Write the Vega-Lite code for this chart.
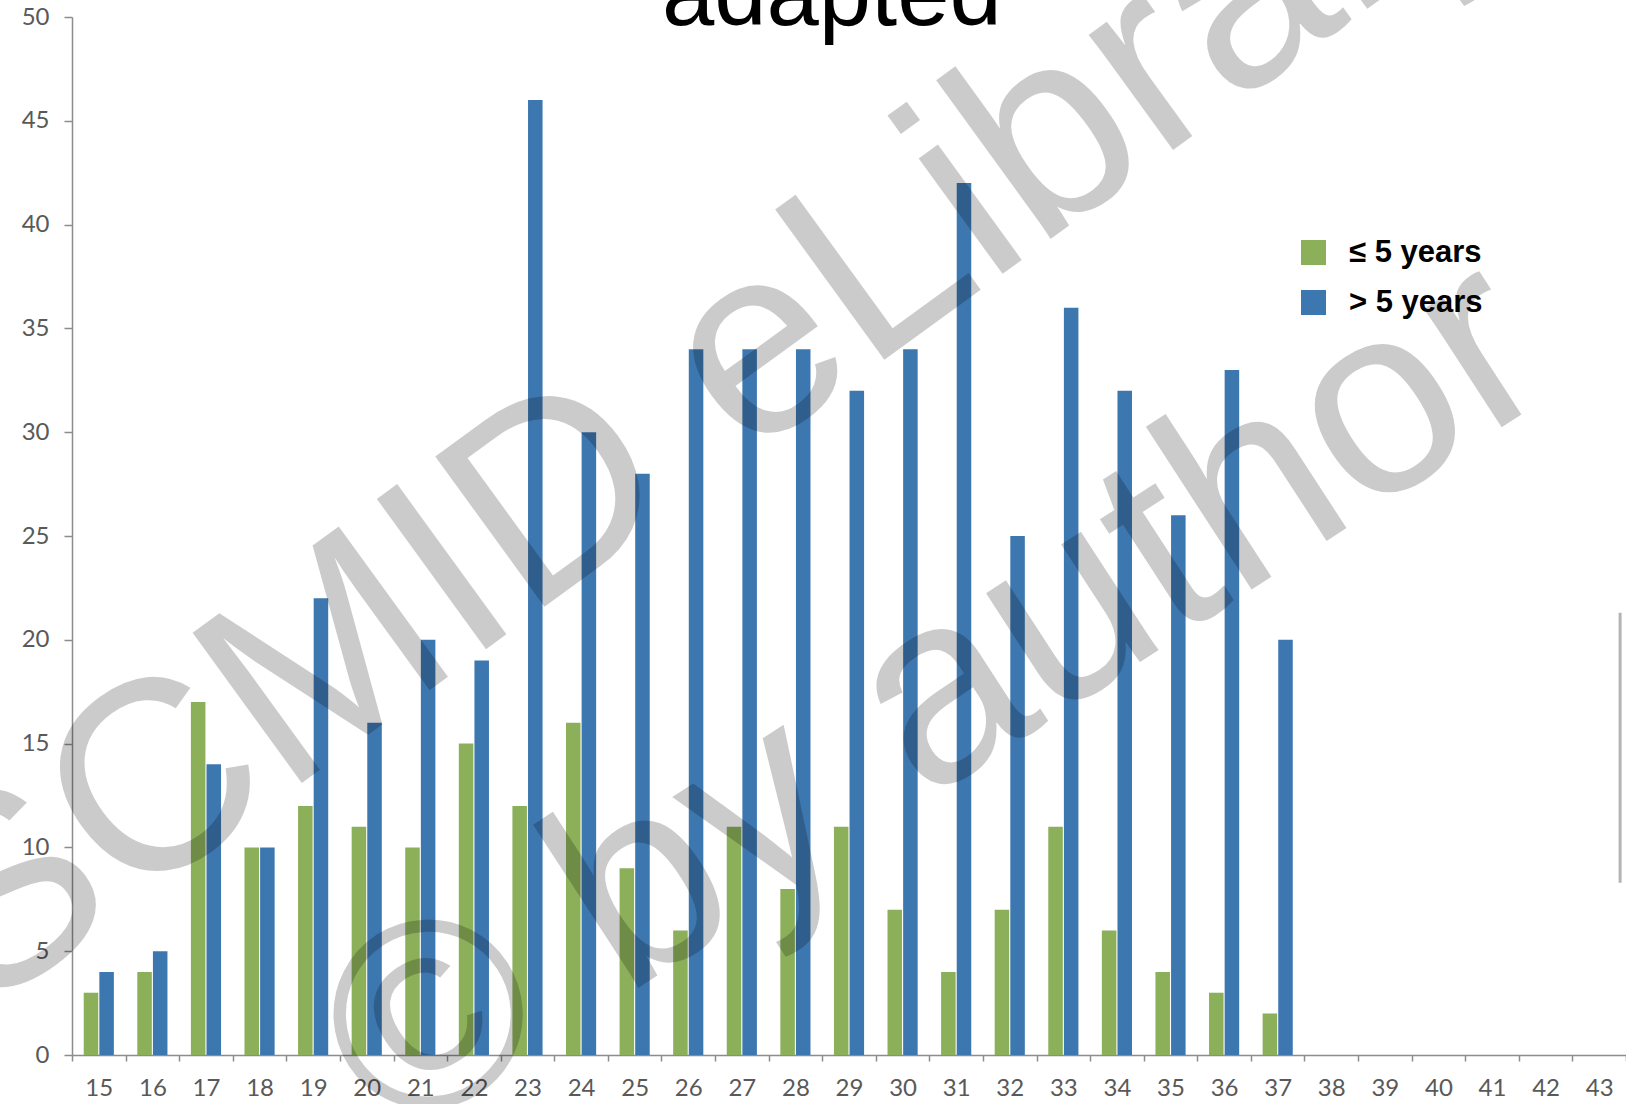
{
  "$schema": "https://vega.github.io/schema/vega-lite/v6.json",
  "autosize": {"type": "none"},
  "width": 1554,
  "height": 1038,
  "padding": {"left": 72, "top": 17, "right": 0, "bottom": 49},
  "background": "white",
  "config": {
    "view": {"stroke": null},
    "font": "Liberation Sans",
    "axis": {
      "domainColor": "#8c8c8c",
      "domainWidth": 1.5,
      "tickColor": "#8c8c8c",
      "tickWidth": 1.5,
      "labelFont": "Lato",
      "labelFontSize": 24,
      "labelColor": "#595959",
      "grid": false,
      "title": null
    }
  },
  "data": {
    "values": [
      {"age": 15, "group": "≤ 5 years", "count": 3}, {"age": 15, "group": "> 5 years", "count": 4},
      {"age": 16, "group": "≤ 5 years", "count": 4}, {"age": 16, "group": "> 5 years", "count": 5},
      {"age": 17, "group": "≤ 5 years", "count": 17}, {"age": 17, "group": "> 5 years", "count": 14},
      {"age": 18, "group": "≤ 5 years", "count": 10}, {"age": 18, "group": "> 5 years", "count": 10},
      {"age": 19, "group": "≤ 5 years", "count": 12}, {"age": 19, "group": "> 5 years", "count": 22},
      {"age": 20, "group": "≤ 5 years", "count": 11}, {"age": 20, "group": "> 5 years", "count": 16},
      {"age": 21, "group": "≤ 5 years", "count": 10}, {"age": 21, "group": "> 5 years", "count": 20},
      {"age": 22, "group": "≤ 5 years", "count": 15}, {"age": 22, "group": "> 5 years", "count": 19},
      {"age": 23, "group": "≤ 5 years", "count": 12}, {"age": 23, "group": "> 5 years", "count": 46},
      {"age": 24, "group": "≤ 5 years", "count": 16}, {"age": 24, "group": "> 5 years", "count": 30},
      {"age": 25, "group": "≤ 5 years", "count": 9}, {"age": 25, "group": "> 5 years", "count": 28},
      {"age": 26, "group": "≤ 5 years", "count": 6}, {"age": 26, "group": "> 5 years", "count": 34},
      {"age": 27, "group": "≤ 5 years", "count": 11}, {"age": 27, "group": "> 5 years", "count": 34},
      {"age": 28, "group": "≤ 5 years", "count": 8}, {"age": 28, "group": "> 5 years", "count": 34},
      {"age": 29, "group": "≤ 5 years", "count": 11}, {"age": 29, "group": "> 5 years", "count": 32},
      {"age": 30, "group": "≤ 5 years", "count": 7}, {"age": 30, "group": "> 5 years", "count": 34},
      {"age": 31, "group": "≤ 5 years", "count": 4}, {"age": 31, "group": "> 5 years", "count": 42},
      {"age": 32, "group": "≤ 5 years", "count": 7}, {"age": 32, "group": "> 5 years", "count": 25},
      {"age": 33, "group": "≤ 5 years", "count": 11}, {"age": 33, "group": "> 5 years", "count": 36},
      {"age": 34, "group": "≤ 5 years", "count": 6}, {"age": 34, "group": "> 5 years", "count": 32},
      {"age": 35, "group": "≤ 5 years", "count": 4}, {"age": 35, "group": "> 5 years", "count": 26},
      {"age": 36, "group": "≤ 5 years", "count": 3}, {"age": 36, "group": "> 5 years", "count": 33},
      {"age": 37, "group": "≤ 5 years", "count": 2}, {"age": 37, "group": "> 5 years", "count": 20},
      {"age": 38, "group": "≤ 5 years", "count": 0}, {"age": 38, "group": "> 5 years", "count": 0},
      {"age": 39, "group": "≤ 5 years", "count": 0}, {"age": 39, "group": "> 5 years", "count": 0},
      {"age": 40, "group": "≤ 5 years", "count": 0}, {"age": 40, "group": "> 5 years", "count": 0},
      {"age": 41, "group": "≤ 5 years", "count": 0}, {"age": 41, "group": "> 5 years", "count": 0},
      {"age": 42, "group": "≤ 5 years", "count": 0}, {"age": 42, "group": "> 5 years", "count": 0},
      {"age": 43, "group": "≤ 5 years", "count": 0}, {"age": 43, "group": "> 5 years", "count": 0}
    ]
  },
  "layer": [
    {
      "mark": {"type": "bar"},
      "encoding": {
        "x": {
          "field": "age",
          "type": "ordinal",
          "scale": {
            "domain": [15, 16, 17, 18, 19, 20, 21, 22, 23, 24, 25, 26, 27, 28, 29, 30, 31, 32, 33, 34, 35, 36, 37, 38, 39, 40, 41, 42, 43],
            "paddingInner": 0,
            "paddingOuter": 0
          },
          "axis": {"labelAngle": 0, "tickBand": "extent", "tickSize": 6, "labelPadding": 15}
        },
        "xOffset": {
          "field": "group",
          "type": "nominal",
          "scale": {"domain": ["≤ 5 years", "> 5 years"], "paddingInner": 0.07, "paddingOuter": 0.75}
        },
        "y": {
          "field": "count",
          "type": "quantitative",
          "scale": {"domain": [0, 50], "nice": false},
          "axis": {"values": [0, 5, 10, 15, 20, 25, 30, 35, 40, 45, 50], "tickSize": 8, "labelPadding": 15}
        },
        "color": {
          "field": "group",
          "type": "nominal",
          "scale": {"domain": ["≤ 5 years", "> 5 years"], "range": ["#8cb05a", "#3d77b0"]},
          "legend": {
            "title": null,
            "orient": "none",
            "legendX": 1226,
            "legendY": 220,
            "padding": 0,
            "symbolType": "square",
            "symbolSize": 625,
            "symbolStrokeWidth": 0,
            "symbolOpacity": 1,
            "labelFont": "Liberation Sans",
            "labelFontSize": 31,
            "labelFontWeight": "bold",
            "labelColor": "black",
            "labelOffset": 20,
            "rowPadding": 18
          }
        }
      }
    },
    {
      "data": {"values": [{}]},
      "mark": {"type": "rule", "color": "#b4b4b4", "strokeWidth": 3},
      "encoding": {
        "x": {"datum": 43, "type": "ordinal", "bandPosition": 0.89},
        "y": {"datum": 21.3, "type": "quantitative"},
        "y2": {"datum": 8.3}
      }
    },
    {
      "data": {"values": [{}]},
      "mark": {"type": "text", "text": "adapted", "font": "Liberation Sans", "fontSize": 94, "align": "center", "baseline": "alphabetic", "color": "black"},
      "encoding": {
        "x": {"datum": 29, "type": "ordinal", "bandPosition": 0.18},
        "y": {"datum": 49.6, "type": "quantitative"}
      }
    },
    {
      "data": {"values": [{}]},
      "mark": {"type": "text", "text": "SCMID eLibrary", "font": "Liberation Sans", "fontSize": 270, "angle": 324, "align": "center", "baseline": "middle", "color": "#000000", "opacity": 0.2},
      "encoding": {
        "x": {"datum": 26, "type": "ordinal", "bandPosition": 0.9},
        "y": {"datum": 32.2, "type": "quantitative"}
      }
    },
    {
      "data": {"values": [{}]},
      "mark": {"type": "text", "text": "© by author", "font": "Liberation Sans", "fontSize": 268, "angle": 327, "align": "center", "baseline": "middle", "color": "#000000", "opacity": 0.2},
      "encoding": {
        "x": {"datum": 31, "type": "ordinal", "bandPosition": 0.1},
        "y": {"datum": 17.1, "type": "quantitative"}
      }
    }
  ]
}
